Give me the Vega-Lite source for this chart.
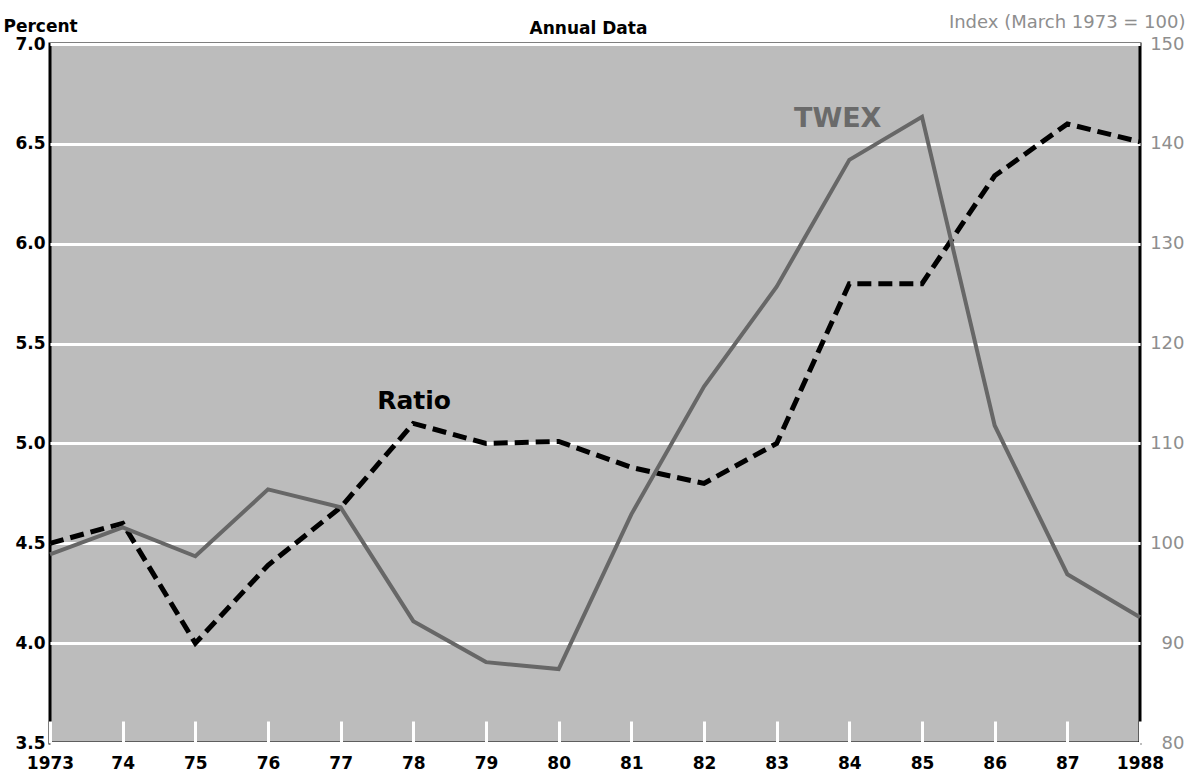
{
  "$schema": "https://vega.github.io/schema/vega-lite/v6.json",
  "width": 1090,
  "height": 699,
  "autosize": {"type": "none"},
  "padding": {"left": 50, "top": 44, "right": 48, "bottom": 28},
  "background": "white",
  "config": {
    "view": {"fill": "#bcbcbc", "stroke": "black", "strokeWidth": 3},
    "axis": {"domain": false}
  },
  "datasets": {
    "ratio": [
      {"year": 1973, "value": 4.5},
      {"year": 1974, "value": 4.6},
      {"year": 1975, "value": 4.0},
      {"year": 1976, "value": 4.39},
      {"year": 1977, "value": 4.68},
      {"year": 1978, "value": 5.1},
      {"year": 1979, "value": 5.0},
      {"year": 1980, "value": 5.01},
      {"year": 1981, "value": 4.88},
      {"year": 1982, "value": 4.8},
      {"year": 1983, "value": 5.0},
      {"year": 1984, "value": 5.8},
      {"year": 1985, "value": 5.8},
      {"year": 1986, "value": 6.34},
      {"year": 1987, "value": 6.6},
      {"year": 1988, "value": 6.51}
    ],
    "twex": [
      {"year": 1973, "value": 98.9},
      {"year": 1974, "value": 101.6},
      {"year": 1975, "value": 98.7},
      {"year": 1976, "value": 105.4},
      {"year": 1977, "value": 103.6},
      {"year": 1978, "value": 92.2},
      {"year": 1979, "value": 88.1},
      {"year": 1980, "value": 87.4},
      {"year": 1981, "value": 102.9},
      {"year": 1982, "value": 115.7},
      {"year": 1983, "value": 125.7},
      {"year": 1984, "value": 138.4},
      {"year": 1985, "value": 142.7},
      {"year": 1986, "value": 111.8},
      {"year": 1987, "value": 96.9},
      {"year": 1988, "value": 92.6}
    ],
    "ratioLabel": [{"label": "Ratio", "year": 1978.01, "value": 5.21}],
    "twexLabel": [{"label": "TWEX", "year": 1983.84, "value": 142.5}]
  },
  "encoding": {
    "x": {
      "field": "year",
      "type": "quantitative",
      "scale": {"domain": [1973, 1988], "nice": false, "zero": false},
      "axis": {
        "title": "Annual Data",
        "titleX": 538,
        "titleY": -710,
        "titleAlign": "center",
        "titleBaseline": "alphabetic",
        "titleAngle": 0,
        "titleFont": "DejaVu Sans",
        "titleFontWeight": "bold",
        "titleFontSize": 17,
        "titleColor": "black",
        "values": [1973, 1974, 1975, 1976, 1977, 1978, 1979, 1980, 1981, 1982, 1983, 1984, 1985, 1986, 1987, 1988],
        "labelExpr": "datum.value == 1973 || datum.value == 1988 ? '' + datum.value : slice('' + datum.value, 2)",
        "grid": false,
        "ticks": true,
        "tickColor": "white",
        "tickWidth": 3,
        "tickSize": -22,
        "tickOffset": 0,
        "labelPadding": 34,
        "labelBaseline": "top",
        "labelFont": "DejaVu Sans",
        "labelFontWeight": "bold",
        "labelFontSize": 17,
        "labelColor": "black",
        "labelFlush": false,
        "labelOverlap": false
      }
    }
  },
  "layer": [
    {
      "layer": [
        {
          "data": {"name": "ratio"},
          "mark": {"type": "line", "color": "black", "strokeWidth": 5, "strokeDash": [14, 7]},
          "encoding": {
            "y": {
              "field": "value",
              "type": "quantitative",
              "scale": {"domain": [3.5, 7.0], "nice": false, "zero": false},
              "axis": {
                "orient": "left",
                "values": [3.5, 4.0, 4.5, 5.0, 5.5, 6.0, 6.5, 7.0],
                "format": ".1f",
                "grid": true,
                "gridColor": "white",
                "gridWidth": 3,
                "gridOpacity": 1,
                "ticks": false,
                "tickSize": 0,
                "labelPadding": 5,
                "labelFont": "DejaVu Sans",
                "labelFontWeight": "bold",
                "labelFontSize": 17,
                "labelColor": "black",
                "labelFlush": false,
                "labelOverlap": false,
                "title": "Percent",
                "titleAngle": 0,
                "titleAlign": "left",
                "titleBaseline": "alphabetic",
                "titleX": -47,
                "titleY": -13,
                "titleFont": "DejaVu Sans",
                "titleFontWeight": "bold",
                "titleFontSize": 17,
                "titleColor": "black"
              }
            }
          }
        },
        {
          "data": {"name": "ratioLabel"},
          "mark": {"type": "text", "font": "DejaVu Sans", "fontWeight": "bold", "fontSize": 25, "color": "black", "align": "center", "baseline": "middle"},
          "encoding": {
            "y": {"field": "value", "type": "quantitative"},
            "text": {"field": "label"}
          }
        }
      ]
    },
    {
      "layer": [
        {
          "data": {"name": "twex"},
          "mark": {"type": "line", "color": "#676767", "strokeWidth": 4},
          "encoding": {
            "y": {
              "field": "value",
              "type": "quantitative",
              "scale": {"domain": [80, 150], "nice": false, "zero": false},
              "axis": {
                "orient": "right",
                "values": [80, 90, 100, 110, 120, 130, 140, 150],
                "grid": false,
                "ticks": false,
                "tickSize": 0,
                "labelAlign": "right",
                "labelPadding": 44,
                "labelFont": "DejaVu Sans",
                "labelFontSize": 18,
                "labelColor": "#8e8e8e",
                "labelFlush": false,
                "labelOverlap": false,
                "title": "Index (March 1973 = 100)",
                "titleAngle": 0,
                "titleAlign": "right",
                "titleBaseline": "alphabetic",
                "titleX": 45,
                "titleY": -17,
                "titleFont": "DejaVu Sans",
                "titleFontWeight": "normal",
                "titleFontSize": 18,
                "titleColor": "#8e8e8e"
              }
            }
          }
        },
        {
          "data": {"name": "twexLabel"},
          "mark": {"type": "text", "font": "DejaVu Sans", "fontWeight": "bold", "fontSize": 27, "color": "#6a6a6a", "align": "center", "baseline": "middle"},
          "encoding": {
            "y": {"field": "value", "type": "quantitative"},
            "text": {"field": "label"}
          }
        }
      ]
    }
  ],
  "resolve": {"scale": {"y": "independent"}}
}
